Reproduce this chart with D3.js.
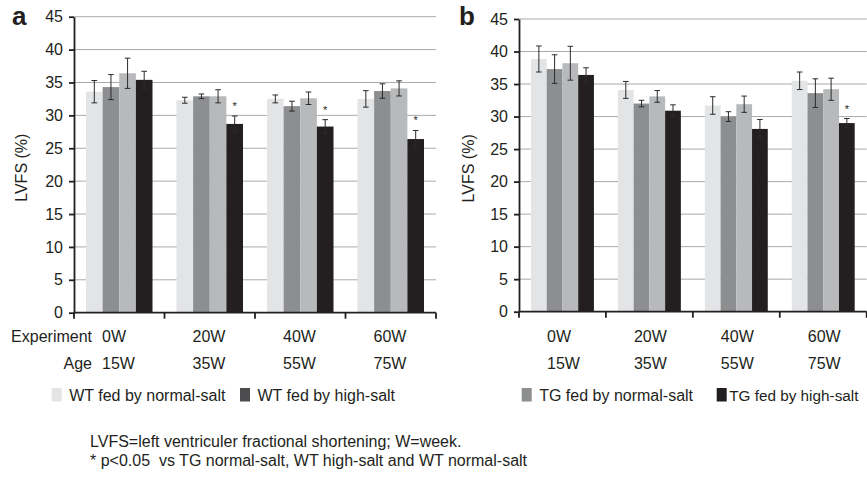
<!DOCTYPE html>
<html lang="en">
<head>
<meta charset="utf-8"/>
<title>LVFS bar charts</title>
<script src="https://cdn.jsdelivr.net/npm/d3@7"></script>
<style>
  body { margin: 0; background: #fff; }
  svg text { font-family: "Liberation Sans", Arial, sans-serif; fill: #231f20; }
  .grid line { stroke: #a9aaac; stroke-width: 1; }
  .axis path, .axis line { stroke: #231f20; stroke-width: 1.8; }
</style>
</head>
<body>
<div id="chart"></div>
<script>
// groups (experiment week / age) and the four series
var experiment = ["0W", "20W", "40W", "60W"];
var age = ["15W", "35W", "55W", "75W"];
var series = ["WT fed by normal-salt", "WT fed by high-salt", "TG fed by normal-salt", "TG fed by high-salt"];
var yTicks = [0, 5, 10, 15, 20, 25, 30, 35, 40, 45];

// panel a values (rows = series, cols = groups)
var aMean = [
  [33.6, 32.3, 32.5, 32.5],
  [34.3, 32.9, 31.4, 33.7],
  [36.4, 32.9, 32.6, 34.1],
  [35.4, 28.7, 28.3, 26.4]
];
var aErr = [
  [1.7, 0.45, 0.6, 1.25],
  [1.9, 0.35, 0.75, 1.1],
  [2.3, 1.0, 0.95, 1.15],
  [1.3, 1.2, 1.05, 1.3]
];
var aStar = [false, true, true, true]; // TG high-salt only

// panel b values
var bMean = [
  [38.85, 34.1, 31.7, 35.5],
  [37.3, 32.0, 30.0, 33.6],
  [38.2, 33.1, 31.9, 34.2],
  [36.4, 30.9, 28.1, 29.0]
];
var bErr = [
  [2.0, 1.3, 1.35, 1.35],
  [2.2, 0.5, 0.75, 2.2],
  [2.6, 0.9, 1.25, 1.7],
  [1.1, 0.9, 1.45, 0.7]
];
var bStar = [false, false, false, true];

var barColor = ["#e3e4e6", "#8d8e90", "#b8b9bb", "#231f20"];
var legendColor = ["#e3e4e6", "#4d4d4f", "#8d8e90", "#231f20"];

var W = 867, H = 479;
var svg = d3.select("#chart").append("svg")
  .attr("width", W)
  .attr("height", H);

function drawPanel(p) {
  var x = d3.scaleBand().domain(experiment).range([p.x0, p.x1]);
  var y = d3.scaleLinear().domain([0, 45]).range([p.yb, p.yt]);
  var inner = d3.scaleBand().domain(d3.range(4)).range([12, x.bandwidth() - 12]);

  var g = svg.append("g");

  // gridlines
  g.append("g").attr("class", "grid")
    .selectAll("line")
    .data(yTicks.slice(1))
    .enter().append("line")
      .attr("x1", p.x0).attr("x2", p.x1)
      .attr("y1", function(d) { return y(d); })
      .attr("y2", function(d) { return y(d); });

  // bars
  var rows = [];
  for (var s = 0; s < 4; s++) {
    for (var i = 0; i < 4; i++) {
      rows.push({ s: s, grp: experiment[i], v: p.mean[s][i], e: p.err[s][i], star: s === 3 && p.star[i] });
    }
  }
  g.append("g").selectAll("rect")
    .data(rows)
    .enter().append("rect")
      .attr("x", function(d) { return x(d.grp) + inner(d.s); })
      .attr("y", function(d) { return y(d.v); })
      .attr("width", inner.bandwidth())
      .attr("height", function(d) { return y(0) - y(d.v); })
      .attr("fill", function(d) { return barColor[d.s]; });

  // error bars
  var eb = g.append("g").attr("stroke", "#2b2b2b").attr("stroke-width", 1)
    .selectAll("g").data(rows).enter().append("g")
      .attr("transform", function(d) { return "translate(" + (x(d.grp) + inner(d.s) + inner.bandwidth() / 2) + ",0)"; });
  eb.append("line")
    .attr("y1", function(d) { return y(d.v + d.e); })
    .attr("y2", function(d) { return y(d.v - d.e); });
  eb.append("line").attr("x1", -2.8).attr("x2", 2.8)
    .attr("y1", function(d) { return y(d.v + d.e); })
    .attr("y2", function(d) { return y(d.v + d.e); });
  eb.append("line").attr("x1", -2.8).attr("x2", 2.8)
    .attr("y1", function(d) { return y(d.v - d.e); })
    .attr("y2", function(d) { return y(d.v - d.e); });

  // significance stars
  g.append("g").selectAll("text")
    .data(rows.filter(function(d) { return d.star; }))
    .enter().append("text")
      .attr("x", function(d) { return x(d.grp) + inner(d.s) + inner.bandwidth() / 2; })
      .attr("y", function(d) { return y(d.v + d.e) - 6; })
      .attr("text-anchor", "middle")
      .style("font-size", "11px")
      .text("*");

  // y axis
  var ya = g.append("g").attr("class", "axis")
    .attr("transform", "translate(" + p.x0 + ",0)")
    .call(d3.axisLeft(y).tickValues(yTicks).tickSize(5).tickPadding(6).tickSizeOuter(0));
  ya.selectAll("text").style("font-size", "16px").attr("fill", "#231f20");

  // x axis with ticks at band boundaries
  var xa = g.append("g").attr("class", "axis")
    .attr("transform", "translate(0," + p.yb + ")");
  xa.append("line").attr("x1", p.x0).attr("x2", p.x1);
  xa.selectAll(".tk")
    .data(experiment.concat(["end"]))
    .enter().append("line").attr("class", "tk")
      .attr("x1", function(d, i) { return p.x0 + i * x.bandwidth(); })
      .attr("x2", function(d, i) { return p.x0 + i * x.bandwidth(); })
      .attr("y1", 0).attr("y2", 6);

  // category labels
  g.append("g").selectAll("text")
    .data(experiment)
    .enter().append("text")
      .attr("x", function(d) { return x(d) + 28; })
      .attr("y", 342)
      .style("font-size", "16px")
      .text(function(d) { return d; });
  g.append("g").selectAll("text")
    .data(age)
    .enter().append("text")
      .attr("x", function(d, i) { return x(experiment[i]) + 28; })
      .attr("y", 368.5)
      .style("font-size", "16px")
      .text(function(d) { return d; });

  if (p.rowLabels) {
    g.append("text").attr("x", 92).attr("y", 342).attr("text-anchor", "end")
      .style("font-size", "16px").text("Experiment");
    g.append("text").attr("x", 92).attr("y", 368.5).attr("text-anchor", "end")
      .style("font-size", "16px").text("Age");
  }

  // y title
  g.append("text")
    .attr("transform", "translate(" + p.titleX + "," + ((p.yt + p.yb) / 2 + 3) + ") rotate(-90)")
    .attr("text-anchor", "middle")
    .style("font-size", "16px")
    .text("LVFS (%)");

  // panel letter
  g.append("text")
    .attr("x", p.letterX).attr("y", 25)
    .style("font-size", "26px").style("font-weight", "bold")
    .text(p.letter);

  // legend
  var lg = g.append("g").selectAll("g")
    .data(p.legend)
    .enter().append("g")
      .attr("transform", function(d) { return "translate(" + d.x + ",388)"; });
  lg.append("rect").attr("width", 10).attr("height", 13.5)
    .attr("fill", function(d) { return legendColor[d.s]; });
  lg.append("text").attr("x", function(d) { return d.gap; }).attr("y", 12.8)
    .style("font-size", function(d) { return d.fs + "px"; })
    .text(function(d) { return series[d.s]; });
}

drawPanel({
  letter: "a", letterX: 12, titleX: 27,
  x0: 74, x1: 436, yt: 16.7, yb: 312.7,
  mean: aMean, err: aErr, star: aStar, rowLabels: true,
  legend: [{ s: 0, x: 51.7, gap: 17.5, fs: 16 }, { s: 1, x: 240, gap: 17.5, fs: 16 }]
});

drawPanel({
  letter: "b", letterX: 459, titleX: 474,
  x0: 519, x1: 866.7, yt: 19, yb: 311.7,
  mean: bMean, err: bErr, star: bStar, rowLabels: false,
  legend: [{ s: 2, x: 521.7, gap: 17.5, fs: 16 }, { s: 3, x: 716.7, gap: 12.5, fs: 15.3 }]
});

// footnotes
svg.append("text").attr("x", 90).attr("y", 447)
  .style("font-size", "16px")
  .text("LVFS=left ventriculer fractional shortening; W=week.");
svg.append("text").attr("x", 90).attr("y", 466).attr("xml:space", "preserve")
  .style("font-size", "16px")
  .text("* p<0.05  vs TG normal-salt, WT high-salt and WT normal-salt");
</script>
</body>
</html>
